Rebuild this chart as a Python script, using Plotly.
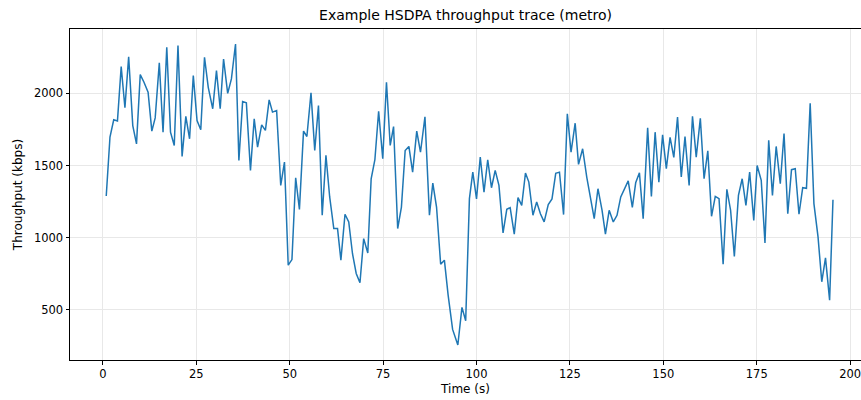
import plotly.graph_objects as go

# Time stamps (s)
time_s = [0.9, 1.9, 2.9, 3.9, 4.9, 5.9, 6.9, 8.0, 9.0, 10.0, 11.0, 12.1, 13.1, 14.0, 15.1, 16.1, 17.1, 18.1, 19.1, 20.1, 21.2, 22.2, 23.2, 24.2,
          25.2, 26.2, 27.2, 28.2, 29.4, 30.4, 31.4, 32.3, 33.4, 34.4, 35.5, 36.4, 37.4, 38.4, 39.5, 40.5, 41.4, 42.5, 43.5, 44.5, 45.4, 46.5, 47.6, 48.6,
          49.6, 50.6, 51.6, 52.6, 53.7, 54.6, 55.7, 56.7, 57.7, 58.7, 59.7, 60.7, 61.8, 62.8, 63.7, 64.8, 65.8, 66.8, 67.8, 68.8, 69.8, 70.9,
          71.8, 72.8, 73.8, 74.9, 75.9, 76.9, 77.8, 78.9, 79.9, 80.9, 81.9, 82.9, 84.0, 85.0, 86.2,
          87.4, 88.3, 89.3, 90.4, 91.4, 92.4, 93.6, 95.0, 96.1, 97.1, 98.1, 99.0, 100.0, 101.0,
          102.0, 103.0, 104.0, 105.0, 106.0, 107.1, 108.1, 109.0, 110.1, 111.1, 112.1, 113.1, 114.0, 115.1, 116.1, 117.1, 118.1, 119.2, 120.2, 121.2,
          122.2, 123.3, 124.3, 125.3, 126.4, 127.3, 128.4, 129.5, 130.5, 131.5, 132.5, 133.6, 134.5, 135.5, 136.6, 137.6, 138.6, 139.6, 140.6, 141.7, 142.6, 143.6, 144.6,
          145.8, 146.8, 147.8, 148.8, 149.8, 150.8, 151.8, 152.8, 153.8, 154.8, 155.8, 156.9, 157.8, 158.8, 159.9, 160.9, 161.9, 162.9, 163.9, 164.9, 166.0, 167.0, 168.0, 169.0,
          170.1, 171.1, 172.1, 173.1, 174.2, 175.1, 176.2, 177.2, 178.2, 179.2, 180.2, 181.3, 182.3, 183.3, 184.3, 185.3, 186.3, 187.3, 188.3, 189.3, 190.3, 191.4, 192.4, 193.4, 194.5, 195.4]

# Throughput (kbps)
throughput_kbps = [1289, 1697, 1817, 1808, 2185, 1900, 2254, 1777, 1650, 2130, 2077, 2008, 1738, 1830, 2211, 1731, 2319, 1731, 1639, 2331, 1563, 1840, 1685, 2123,
                   1812, 1748, 2250, 2042, 1893, 2158, 1893, 2238, 2000, 2100, 2342, 1535, 1943, 1934, 1466, 1824, 1627, 1782, 1743, 1955, 1870, 1881, 1362, 1524,
                   809, 848, 1415, 1196, 1738, 1701, 2003, 1604, 1916, 1155, 1570, 1282, 1063, 1063, 844, 1162, 1109, 890, 752, 687, 993, 894,
                   1408, 1540, 1876, 1547, 2077, 1639, 1770, 1063, 1212, 1604, 1632, 1454, 1738, 1592, 1838,
                   1155, 1378, 1212, 816, 844, 602, 364, 256, 517, 424, 1270, 1454, 1268, 1558,
                   1316, 1540, 1346, 1466, 1362, 1033, 1196, 1208, 1024, 1277, 1224, 1448, 1385, 1155, 1247, 1166, 1109, 1230, 1268, 1446,
                   1454, 1160, 1858, 1593, 1793, 1508, 1616, 1420, 1282, 1132, 1339, 1189, 1024, 1189, 1109, 1155, 1282, 1339, 1393, 1210, 1380, 1449, 1132,
                   1761, 1286, 1731, 1385, 1712, 1478, 1695, 1556, 1835, 1420, 1700, 1362, 1841, 1558, 1827, 1408, 1602, 1148, 1286, 1270, 816, 1335, 1190, 870,
                   1293, 1408, 1224, 1454, 1120, 1500, 1397, 963, 1674, 1293, 1632, 1374, 1722, 1166, 1471, 1478, 1162, 1346, 1342, 1932, 1236, 1005, 694, 860, 567, 1263]

x_ticks = [0, 25, 50, 75, 100, 125, 150, 175, 200]
y_ticks = [500, 1000, 1500, 2000]

FONT = "DejaVu Sans"

fig = go.Figure()
fig.add_trace(go.Scatter(
    x=time_s, y=throughput_kbps, mode="lines",
    line=dict(color="#1f77b4", width=1.5),
    hoverinfo="skip", showlegend=False,
))

axis_common = dict(
    showline=True, linecolor="black", linewidth=1, mirror=True,
    ticks="outside", ticklen=3.5, tickwidth=1, tickcolor="black",
    showgrid=True, gridcolor="#e8e8e8", gridwidth=1,
    zeroline=False,
    tickfont=dict(family=FONT, size=11.5, color="black"),
)

fig.update_layout(
    width=861, height=400,
    margin=dict(l=70, r=0, t=29, b=40),
    plot_bgcolor="white", paper_bgcolor="white",
    title=dict(
        text="Example HSDPA throughput trace (metro)",
        x=0.5, xref="paper", xanchor="center",
        y=1 - 15 / 400, yref="container", yanchor="middle",
        font=dict(family=FONT, size=14, color="black"),
    ),
    xaxis=dict(
        range=[-8.8, 202.9], tickvals=x_ticks, ticklabeloverflow="allow",
        title=dict(text="Time (s)", font=dict(family=FONT, size=12, color="black"), standoff=4),
        **axis_common,
    ),
    yaxis=dict(
        range=[152, 2446], tickvals=y_ticks,
        title=dict(text="Throughput (kbps)", font=dict(family=FONT, size=12, color="black"), standoff=8),
        **axis_common,
    ),
)

fig.write_html("out.html")
